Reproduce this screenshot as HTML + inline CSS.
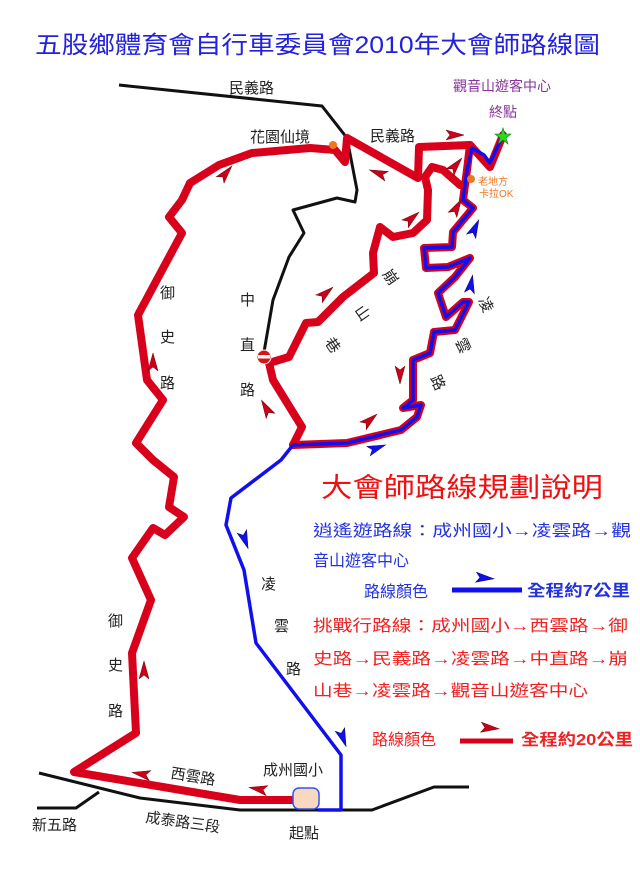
<!DOCTYPE html>
<html><head><meta charset="utf-8"><style>
html,body{margin:0;padding:0;background:#fff;}
svg{display:block;font-family:"Liberation Sans","Noto Sans CJK TC",sans-serif;}
</style></head><body>
<svg width="640" height="880" viewBox="0 0 640 880" xmlns="http://www.w3.org/2000/svg">
<defs>
<path id="ar" d="M-9,-5 L9,0 L-9,5 L-5,0 Z"/>
</defs>
<rect width="640" height="880" fill="#fff"/>
<text x="35" y="53" font-size="24" fill="#2222dd" textLength="565" lengthAdjust="spacingAndGlyphs">五股鄉體育會自行車委員會2010年大會師路線圖</text>

<g fill="none" stroke="#111" stroke-width="3" stroke-linejoin="round">
<path d="M119,85 L322,106 L347,138 L357,190 L355,202 L337,198 L293,210 L304,233 L289,257 L273,300 L264,352"/>
<path d="M39,773 L140,798 L240,810 L372,810 L434,787 L469,787"/>
<path d="M37,808 L76,808 L99,792"/>
</g>

<g fill="none" stroke="#d8001a" stroke-width="8" stroke-linejoin="round" stroke-linecap="round">
<path d="M298,800 L240,800 L74,772 L136,733 L132,653 L151,600 L132,558 L153,528 L165,535 L184,517 L169,507 L174,477 L153,460 L136,443 L163,400 L147,380 L138,315 L182,233 L169,217 L182,200 L190,183 L219,165 L252,153 L310,148 L335,150 L345,162 L347,138 L418,178 L419,147 L470,145 L490,167 L503,135"/>
<path d="M470,145 L467,170 L463,200 L473,208 L453,232 L452,247 L424,248 L426,268 L448,267 L470,258 L455,277 L438,293 L446,317 L463,302 L469,302 L455,330 L434,332 L430,353 L413,360 L413,400 L403,408 L421,405 L417,417 L401,430 L347,443 L293,445"/>
<path d="M460,185 L443,170 L432,167 L425,177 L428,190 L427,220 L413,233 L393,237 L380,227 L373,253 L374,273 L343,297 L318,322 L306,323 L289,357 L269,363 L273,380 L302,427 L293,445"/>
</g>
<g fill="none" stroke="#1010ee" stroke-width="3.5" stroke-linejoin="round">
<path d="M503,135 L490,163 L484,155 L472,148 L467,170 L463,200 L473,208 L453,232 L452,247 L424,248 L426,268 L448,267 L470,258 L455,277 L438,293 L446,317 L463,302 L469,302 L455,330 L434,332 L430,353 L413,360 L413,400 L403,408 L421,405 L417,417 L401,430 L347,443 L293,445 L281,460 L231,498 L226,525 L244,570 L256,643 L341,755 L341,810 L318,810"/>
</g>

<rect x="293" y="788" width="26" height="21" rx="6" fill="#f8d8c0" stroke="#3355ee" stroke-width="1.5"/>
<polygon points="503,128 505,134 511,134 506,138 508,144 503,140 498,144 500,138 495,134 501,134" fill="#22dd22" stroke="#117711" stroke-width="0.6"/>
<circle cx="333" cy="145" r="4" fill="#ee7722"/>
<circle cx="471" cy="179" r="4" fill="#ee7722"/>
<circle cx="264" cy="357" r="7" fill="#dd1111" stroke="#fff" stroke-width="1"/>
<rect x="258" y="355" width="12" height="3.5" fill="#fff"/>

<g fill="#cc0018" stroke="#660000" stroke-width="0.5">
<use href="#ar" transform="translate(226,173) rotate(-50)"/>
<use href="#ar" transform="translate(378,173) rotate(200)"/>
<use href="#ar" transform="translate(455,135) rotate(0)"/>
<use href="#ar" transform="translate(456,165) rotate(-50)"/>
<use href="#ar" transform="translate(457,207) rotate(-60)"/>
<use href="#ar" transform="translate(412,218) rotate(-40)"/>
<use href="#ar" transform="translate(326,293) rotate(-40)"/>
<use href="#ar" transform="translate(266,408) rotate(240)"/>
<use href="#ar" transform="translate(370,420) rotate(-40)"/>
<use href="#ar" transform="translate(400,375) rotate(90)"/>
<use href="#ar" transform="translate(153,362) rotate(-90)"/>
<use href="#ar" transform="translate(144,670) rotate(-90)"/>
<use href="#ar" transform="translate(141,774) rotate(190)"/>
<use href="#ar" transform="translate(258,789) rotate(190)"/>
<use href="#ar" transform="translate(490,728) rotate(5)"/>
</g>
<g fill="#1010ee" stroke="#000066" stroke-width="0.5">
<use href="#ar" transform="translate(475,228) rotate(-65)"/>
<use href="#ar" transform="translate(471,284) rotate(-80)"/>
<use href="#ar" transform="translate(377,448) rotate(-20)"/>
<use href="#ar" transform="translate(245,540) rotate(70)"/>
<use href="#ar" transform="translate(343,738) rotate(70)"/>
<use href="#ar" transform="translate(485,578) rotate(5)"/>
</g>

<g font-size="15" fill="#222">
<text x="229" y="93">民義路</text>
<text x="250" y="142">花園仙境</text>
<text x="370" y="141">民義路</text>
<text x="160" y="298">御</text><text x="160" y="342">史</text><text x="160" y="388">路</text>
<text x="240" y="305">中</text><text x="240" y="350">直</text><text x="240" y="395">路</text>
<text x="0" y="0" transform="translate(382,274) rotate(55)">崩</text>
<text x="0" y="0" transform="translate(354,310) rotate(55)">山</text>
<text x="0" y="0" transform="translate(324,342) rotate(55)">巷</text>
<text x="0" y="0" transform="translate(478,300) rotate(65)">凌</text>
<text x="0" y="0" transform="translate(455,341) rotate(65)">雲</text>
<text x="0" y="0" transform="translate(430,378) rotate(65)">路</text>
<text x="261" y="589">凌</text><text x="274" y="631">雲</text><text x="286" y="674">路</text>
<text x="108" y="626">御</text><text x="108" y="670">史</text><text x="108" y="716">路</text>
<text x="0" y="0" transform="translate(170,778) rotate(9)">西雲路</text>
<text x="263" y="775">成州國小</text>
<text x="32" y="830">新五路</text>
<text x="0" y="0" transform="translate(145,822) rotate(8)">成泰路三段</text>
<text x="289" y="838">起點</text>
</g>
<text x="453" y="91" font-size="14" fill="#883399">觀音山遊客中心</text>
<text x="489" y="117" font-size="14" fill="#883399">終點</text>
<text x="478" y="185" font-size="10" fill="#ee7722">老地方</text>
<text x="479" y="197" font-size="10" fill="#ee7722">卡拉OK</text>

<text x="321" y="497" font-size="27" fill="#ee1111" textLength="282" lengthAdjust="spacingAndGlyphs">大會師路線規劃說明</text>
<g font-size="16" fill="#2233dd">
<text x="313" y="536" textLength="318" lengthAdjust="spacingAndGlyphs">逍遙遊路線：成州國小→凌雲路→觀</text>
<text x="313" y="566">音山遊客中心</text>
<text x="364" y="597">路線顏色</text>
<text x="527" y="596" font-weight="bold" textLength="103" lengthAdjust="spacingAndGlyphs">全程約7公里</text>
</g>
<line x1="452" y1="590" x2="522" y2="590" stroke="#1010ee" stroke-width="5"/>
<g font-size="16" fill="#ee2222">
<text x="313" y="631" textLength="315" lengthAdjust="spacingAndGlyphs">挑戰行路線：成州國小→西雲路→御</text>
<text x="313" y="664" textLength="315" lengthAdjust="spacingAndGlyphs">史路→民義路→凌雲路→中直路→崩</text>
<text x="313" y="696" textLength="275" lengthAdjust="spacingAndGlyphs">山巷→凌雲路→觀音山遊客中心</text>
<text x="372" y="745">路線顏色</text>
<text x="521" y="745" font-weight="bold" textLength="112" lengthAdjust="spacingAndGlyphs">全程約20公里</text>
</g>
<line x1="460" y1="741" x2="513" y2="741" stroke="#d8001a" stroke-width="5"/>
</svg>
</body></html>
